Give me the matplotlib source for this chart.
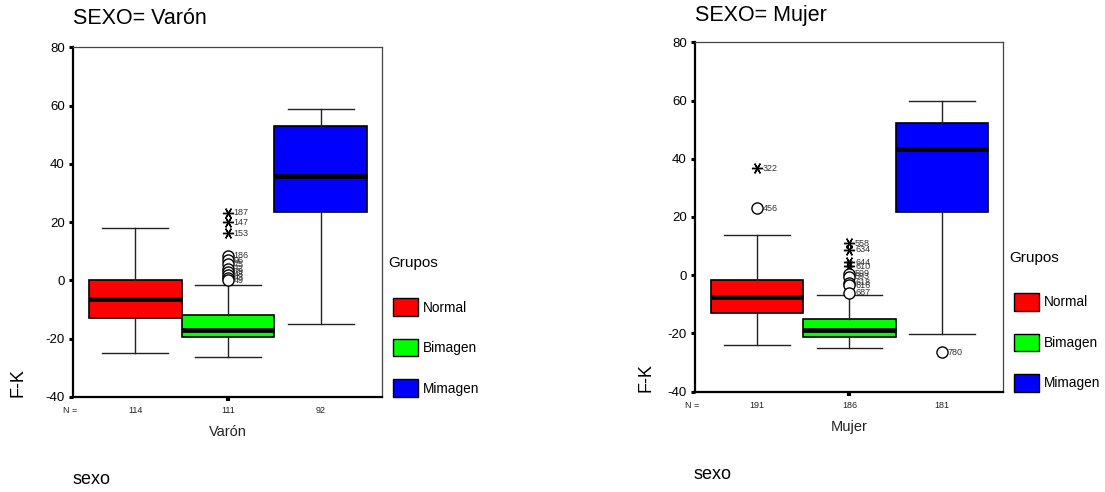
import matplotlib
matplotlib.use('Agg')
import matplotlib.pyplot as plt
from matplotlib.patches import Patch
from matplotlib.transforms import blended_transform_factory

plt.rcParams['font.family'] = ['Liberation Sans', 'DejaVu Sans']

### datos
grupos = ['Normal', 'Bimagen', 'Mimagen']
colores = ['#ff0000', '#00ff00', '#0000ff']

# SEXO = Varón
varon_q1 = [-13.0, -19.4, 23.5]
varon_med = [-6.4, -17.0, 36.0]
varon_q3 = [0.0, -12.0, 53.0]
varon_lo = [-25.0, -26.4, -15.0]
varon_hi = [18.0, -1.5, 59.0]
varon_n = [114, 111, 92]
varon_out_grupo = [2, 2, 2, 2, 2, 2, 2, 2, 2, 2, 2]
varon_out_valor = [23.2, 20.0, 16.2, 8.5, 7.0, 5.5, 4.0, 3.0, 2.0, 1.0, 0.0]
varon_out_etiq = ['187', '147', '153', '186', '96', '75', '72', '79', '48', '43', '49']
varon_out_tipo = ['*', '*', '*', 'o', 'o', 'o', 'o', 'o', 'o', 'o', 'o']

# SEXO = Mujer
mujer_q1 = [-13.0, -21.2, 21.8]
mujer_med = [-7.6, -18.7, 43.4]
mujer_q3 = [-1.8, -15.0, 52.2]
mujer_lo = [-23.8, -24.9, -20.2]
mujer_hi = [13.9, -6.8, 60.0]
mujer_n = [191, 186, 181]
mujer_out_grupo = [1, 1, 2, 2, 2, 2, 2, 2, 2, 2, 2, 3]
mujer_out_valor = [36.8, 23.0, 11.0, 8.8, 4.5, 3.0, 0.5, -0.5, -2.5, -3.5, -6.0, -26.4]
mujer_out_etiq = ['322', '456', '558', '634', '644', '610', '599', '593', '618', '616', '687', '780']
mujer_out_tipo = ['*', 'o', '*', '*', '*', '*', 'o', 'o', 'o', 'o', 'o', 'o']

asterisco = (6, 2, 90)


def panel(ax, xlab, q1, med, q3, lo, hi, n, og, ov, oe, ot):
    stats = []
    for i in range(3):
        stats.append(dict(med=med[i], q1=q1[i], q3=q3[i], whislo=lo[i],
                          whishi=hi[i], fliers=[]))
    bp = ax.bxp(stats, positions=[1, 2, 3], widths=1.0, patch_artist=True,
                showfliers=False,
                boxprops=dict(edgecolor='black', linewidth=1.2),
                medianprops=dict(color='black', linewidth=3.4, solid_capstyle='butt'),
                whiskerprops=dict(color='#222222', linewidth=1.0),
                capprops=dict(color='#222222', linewidth=1.0),
                capwidths=0.71)
    for caja, c in zip(bp['boxes'], colores):
        caja.set_facecolor(c)

    # casos atipicos (o) y extremos (*)
    for g, v, e, t in zip(og, ov, oe, ot):
        if t == '*':
            ax.plot(g, v, marker=asterisco, ms=8, color='black', mew=1.0,
                    clip_on=False)
        else:
            ax.plot(g, v, marker='o', ms=8, mfc='white', mec='black', mew=1.0,
                    clip_on=False)
        ax.annotate(e, (g, v), xytext=(4, 0), textcoords='offset points',
                    va='center', ha='left', fontsize=6.5, color='#333333')

    ax.set_xlim(0.33, 3.66)
    ax.set_ylim(-40, 80)
    ax.set_yticks([-40, -20, 0, 20, 40, 60, 80])
    ax.set_yticklabels(['-40', '-20', '0', '20', '40', '60', '80'])
    ax.set_xticks([2])
    ax.set_xticklabels([''])
    ax.tick_params(axis='y', length=3, width=2.2, pad=3, labelsize=9.5)
    ax.tick_params(axis='x', length=3, width=3.0)
    for s in ['left', 'bottom']:
        ax.spines[s].set_linewidth(1.6)
        ax.spines[s].set_color('black')
    for s in ['top', 'right']:
        ax.spines[s].set_linewidth(0.9)
        ax.spines[s].set_color('#444444')

    tr = blended_transform_factory(ax.transData, ax.transAxes)
    for i in range(3):
        ax.text(i + 1, -0.04, str(n[i]), transform=tr, ha='center', va='center',
                fontsize=6.5, color='#222222')
    ax.text(0.225, -0.04, 'N =', transform=tr, ha='left', va='center',
            fontsize=6.5, color='#222222')
    ax.text(2, -0.1, xlab, transform=tr, ha='center', va='center',
            fontsize=10.5, color='#222222')

    ax.text(1.02, 0.382, 'Grupos', transform=ax.transAxes, ha='left',
            va='center', fontsize=11)
    ax.legend(handles=[Patch(facecolor=c, edgecolor='black', linewidth=1.0, label=g)
                       for g, c in zip(grupos, colores)],
              loc='upper left', bbox_to_anchor=(1.036, 0.282), frameon=False,
              fontsize=9.8, handlelength=1.84, handleheight=1.6, handletextpad=0.35,
              labelspacing=1.69, borderaxespad=0, borderpad=0)


fig = plt.figure(figsize=(11.05, 4.92), dpi=100)
ax1 = fig.add_axes([0.0661, 0.1931, 0.2796, 0.7104])
ax2 = fig.add_axes([0.629, 0.2039, 0.2787, 0.7101])

panel(ax1, 'Varón', varon_q1, varon_med, varon_q3, varon_lo, varon_hi, varon_n,
      varon_out_grupo, varon_out_valor, varon_out_etiq, varon_out_tipo)
panel(ax2, 'Mujer', mujer_q1, mujer_med, mujer_q3, mujer_lo, mujer_hi, mujer_n,
      mujer_out_grupo, mujer_out_valor, mujer_out_etiq, mujer_out_tipo)

fig.text(0.0665, 0.9506, 'SEXO= Varón', fontsize=15.5, va='baseline', ha='left')
fig.text(0.629, 0.958, 'SEXO= Mujer', fontsize=15.5, va='baseline', ha='left')
fig.text(0.0167, 0.1931, 'F-K', rotation=90, fontsize=13, ha='center', va='bottom')
fig.text(0.585, 0.2039, 'F-K', rotation=90, fontsize=13, ha='center', va='bottom')
fig.text(0.0658, 1 - 484 / 492, 'sexo', fontsize=13, va='baseline', ha='left')
fig.text(0.628, 1 - 479 / 492, 'sexo', fontsize=13, va='baseline', ha='left')

fig.savefig('out.png', dpi=100)
